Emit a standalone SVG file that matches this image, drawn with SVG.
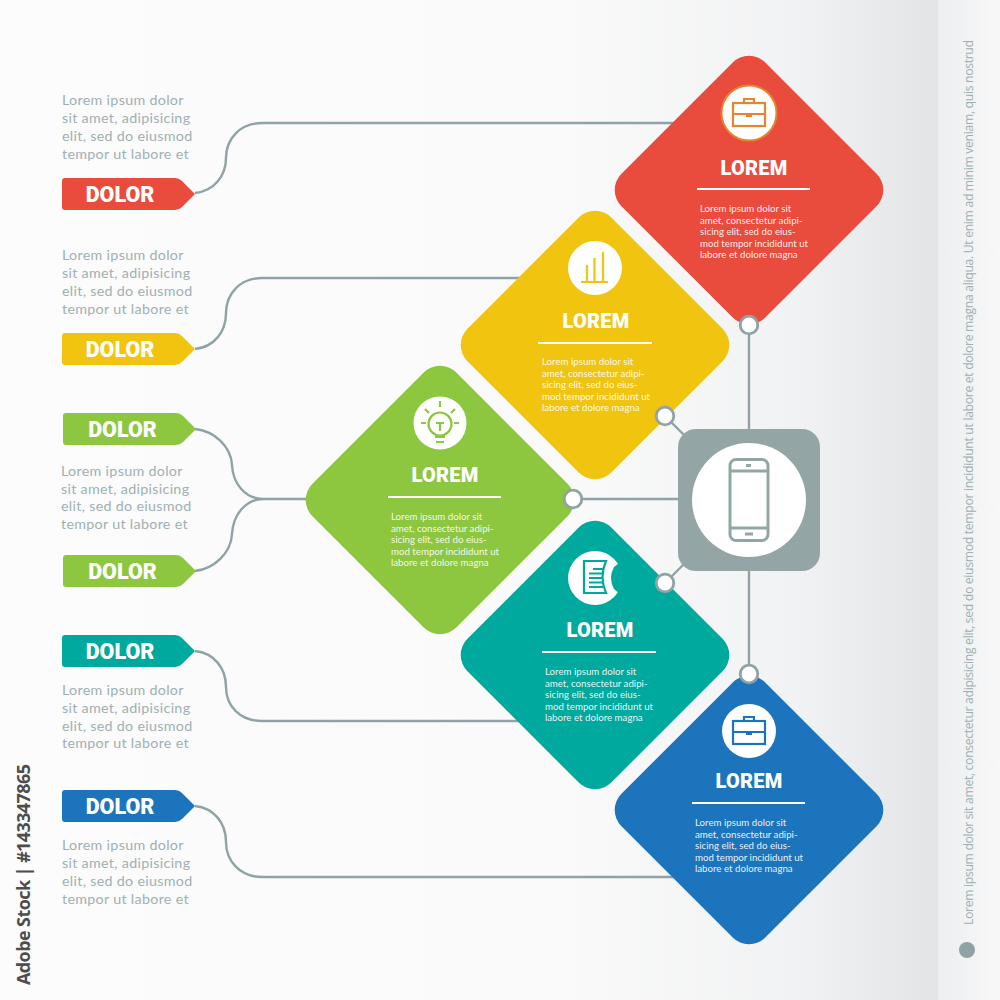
<svg xmlns="http://www.w3.org/2000/svg" xmlns:xlink="http://www.w3.org/1999/xlink" width="1000" height="1000" viewBox="0 0 1000 1000">
<style>
.lnk{fill:none;stroke:#8fa3a6;stroke-width:2.4}
.dot{fill:#fff;stroke:#8fa3a6;stroke-width:2.8}
.para{font:14.3px "Lato","Noto Sans",sans-serif;fill:#9fb0b2;letter-spacing:.3px}
.tag{font:900 21.500px "Roboto","Lato",sans-serif;fill:#fff;text-anchor:middle}
.ttl{font:900 20px "Roboto","Lato",sans-serif;fill:#fff;text-anchor:middle;letter-spacing:.2px}
.body{font:9.700px "Lato","Noto Sans",sans-serif;fill:#fff;fill-opacity:.92;letter-spacing:0}
.rule{stroke:#fff;stroke-width:2;fill:none}
.ic{fill:none;stroke-width:2.2}
</style>
<defs>
<linearGradient id="bg" x1="0" x2="1" y1="0" y2="0"><stop offset="0" stop-color="#fcfcfc"/><stop offset=".6" stop-color="#fafafa"/><stop offset=".85" stop-color="#f1f2f3"/><stop offset="1" stop-color="#e3e4e6"/></linearGradient>
<linearGradient id="side" x1="0" x2="1" y1="0" y2="0"><stop offset="0" stop-color="#eceeef"/><stop offset="1" stop-color="#f8f8f9"/></linearGradient>
<rect id="dia" x="-101.700" y="-101.700" width="203.400" height="203.400" rx="23" transform="rotate(45)"/>
<path id="lab" d="M-133,-16H-20Q-16,-16 -13,-13L0,0L-13,13Q-16,16 -20,16H-130Q-133,16 -133,13V-13Q-133,-16 -130,-16Z"/>
<g id="brief" class="ic"><rect x="-16" y="-10" width="32" height="23"/><path d="M-16,1H16M-3,3H3M-5,-10V-14H5V-10"/></g>
</defs>
<rect id="background" width="938" height="1000" fill="url(#bg)"/>
<rect id="sidebar" x="938" width="62" height="1000" fill="url(#side)"/>

<g id="connectors">
<path class="lnk" d="M195,193C214,191 226,176 226,158C226,139 240,123 262,123H680"/>
<path class="lnk" d="M195,349C214,347 226,332 226,313C226,294 240,278 262,278H525"/>
<path class="lnk" d="M195,429C214,431 231,446 232,465C233,484 245,498 262,499H310"/>
<path class="lnk" d="M195,571C214,569 231,553 232,534C233,515 245,500 262,499"/>
<path class="lnk" d="M195,651C214,653 226,668 226,687C226,706 240,721 262,721H525"/>
<path class="lnk" d="M195,806C214,808 226,823 226,842C226,861 240,877 262,877H680"/>
<path class="lnk" d="M749,325V430M665,416L685,436M573,499H680M665,583L685,563M749,570V674"/>
</g>

<g id="node-red">
<use href="#dia" x="749" y="190" fill="#e94c3d"/>
<circle cx="749" cy="113" r="27.500" fill="#fff" stroke="#e8842c" stroke-width="2"/>
<use href="#brief" x="749" y="113" stroke="#e8842c"/>
<text class="ttl" x="754" y="174.500">LOREM</text>
<path class="rule" d="M697,189H810"/>
<text class="body" x="700" y="211.500">Lorem ipsum dolor sit</text><text class="body" x="700" y="223.500">amet, consectetur adipi-</text><text class="body" x="700" y="235">sicing elit, sed do eius-</text><text class="body" x="700" y="246.500">mod tempor incididunt ut</text><text class="body" x="700" y="258">labore et dolore magna</text>
</g>
<g id="node-yellow">
<use href="#dia" x="595" y="345" fill="#f1c40f"/>
<circle cx="595" cy="268" r="27" fill="#fff"/>
<path class="ic" stroke="#f1c40f" d="M581,282H608M587,282V265M594.500,282V258M603,282V252"/>
<text class="ttl" x="596" y="328">LOREM</text>
<path class="rule" d="M538,343H652"/>
<text class="body" x="542" y="364.500">Lorem ipsum dolor sit</text><text class="body" x="542" y="376.500">amet, consectetur adipi-</text><text class="body" x="542" y="388">sicing elit, sed do eius-</text><text class="body" x="542" y="399.500">mod tempor incididunt ut</text><text class="body" x="542" y="411">labore et dolore magna</text>
</g>
<g id="node-green">
<use href="#dia" x="440" y="500" fill="#8dc63f"/>
<circle cx="440" cy="423" r="26.500" fill="#fff"/>
<g class="ic" stroke="#8dc63f"><circle cx="440" cy="424" r="11.500"/><path d="M440,431V423M436,423H444M435,437H445M436,442H444M440,401V407M425,409L429,413M455,409L451,413M421,423H426M454,423H459"/></g>
<text class="ttl" x="445" y="482">LOREM</text>
<path class="rule" d="M388,497H501"/>
<text class="body" x="391" y="519.500">Lorem ipsum dolor sit</text><text class="body" x="391" y="531.500">amet, consectetur adipi-</text><text class="body" x="391" y="543">sicing elit, sed do eius-</text><text class="body" x="391" y="554.500">mod tempor incididunt ut</text><text class="body" x="391" y="566">labore et dolore magna</text>
</g>
<g id="node-teal">
<use href="#dia" x="595" y="655" fill="#00a99d"/>
<circle cx="595" cy="578" r="27" fill="#fff"/>
<path fill="#00a99d" d="M623,560L614,567Q608,578 614,589L623,597Z"/>
<g class="ic" stroke="#00a99d"><path d="M606,561H584V593H606Q599,577 606,561Z"/><path d="M593,569H603M589,573.500H603M589,578H603M589,582.500H603M589,587H603"/></g>
<text class="ttl" x="600" y="637">LOREM</text>
<path class="rule" d="M542,652H656"/>
<text class="body" x="545" y="674.500">Lorem ipsum dolor sit</text><text class="body" x="545" y="686.500">amet, consectetur adipi-</text><text class="body" x="545" y="698">sicing elit, sed do eius-</text><text class="body" x="545" y="709.500">mod tempor incididunt ut</text><text class="body" x="545" y="721">labore et dolore magna</text>
</g>
<g id="node-blue">
<use href="#dia" x="749" y="810" fill="#1c75bc"/>
<circle cx="749" cy="731" r="27" fill="#fff"/>
<use href="#brief" x="749" y="731" stroke="#1c75bc"/>
<text class="ttl" x="749" y="788">LOREM</text>
<path class="rule" d="M692,803H805"/>
<text class="body" x="695" y="825.500">Lorem ipsum dolor sit</text><text class="body" x="695" y="837.500">amet, consectetur adipi-</text><text class="body" x="695" y="849">sicing elit, sed do eius-</text><text class="body" x="695" y="860.500">mod tempor incididunt ut</text><text class="body" x="695" y="872">labore et dolore magna</text>
</g>

<g id="node-hub">
<rect x="678" y="429" width="142" height="142" rx="18" fill="#94a5a6"/>
<circle cx="749" cy="500" r="57" fill="#fff"/>
<g fill="none" stroke="#94a5a6" stroke-width="3"><rect x="730" y="459.500" width="38" height="81" rx="6"/><path d="M730,471H768M730,528H768"/></g>
<rect x="746" y="464" width="5" height="3" fill="#94a5a6"/><rect x="745" y="532.500" width="8" height="3" fill="#94a5a6"/>
</g>

<g id="joints">
<circle class="dot" cx="749" cy="325" r="8.800"/>
<circle class="dot" cx="665" cy="416" r="8.800"/>
<circle class="dot" cx="573" cy="499" r="8.800"/>
<circle class="dot" cx="665" cy="583" r="8.800"/>
<circle class="dot" cx="749" cy="674" r="8.800"/>
</g>

<g id="label-1"><use href="#lab" x="195" y="194" fill="#e94c3d"/><text class="tag" x="120" y="201.500">DOLOR</text>
<text class="para" x="62" y="104.500">Lorem ipsum dolor</text><text class="para" x="62" y="122.500">sit amet, adipisicing</text><text class="para" x="62" y="140.500">elit, sed do eiusmod</text><text class="para" x="62" y="158.500">tempor ut labore et</text></g>
<g id="label-2"><use href="#lab" x="195" y="349" fill="#f1c40f"/><text class="tag" x="120" y="356.500">DOLOR</text>
<text class="para" x="62" y="259.500">Lorem ipsum dolor</text><text class="para" x="62" y="277.500">sit amet, adipisicing</text><text class="para" x="62" y="295.500">elit, sed do eiusmod</text><text class="para" x="62" y="313.500">tempor ut labore et</text></g>
<g id="label-3"><use href="#lab" x="196" y="429" fill="#8dc63f"/><text class="tag" x="122.500" y="436.500">DOLOR</text>
<text class="para" x="61" y="475.500">Lorem ipsum dolor</text><text class="para" x="61" y="493.500">sit amet, adipisicing</text><text class="para" x="61" y="511">elit, sed do eiusmod</text><text class="para" x="61" y="528.500">tempor ut labore et</text></g>
<g id="label-4"><use href="#lab" x="196" y="571" fill="#8dc63f"/><text class="tag" x="122.500" y="578.500">DOLOR</text></g>
<g id="label-5"><use href="#lab" x="195" y="651" fill="#00a99d"/><text class="tag" x="120" y="658.500">DOLOR</text>
<text class="para" x="62" y="694.500">Lorem ipsum dolor</text><text class="para" x="62" y="712.500">sit amet, adipisicing</text><text class="para" x="62" y="730.500">elit, sed do eiusmod</text><text class="para" x="62" y="748">tempor ut labore et</text></g>
<g id="label-6"><use href="#lab" x="195" y="806" fill="#1c75bc"/><text class="tag" x="120" y="813.500">DOLOR</text>
<text class="para" x="62" y="849.500">Lorem ipsum dolor</text><text class="para" x="62" y="867.500">sit amet, adipisicing</text><text class="para" x="62" y="885.500">elit, sed do eiusmod</text><text class="para" x="62" y="903.500">tempor ut labore et</text></g>

<text transform="translate(973,925) rotate(-90)" font-family="'Open Sans','Noto Sans',sans-serif" font-size="12.200" fill="#9db0b2" textLength="885" lengthAdjust="spacing">Lorem ipsum dolor sit amet, consectetur adipisicing elit, sed do eiusmod tempor incididunt ut labore et dolore magna aliqua. Ut enim ad minim veniam, quis nostrud</text>
<circle cx="967" cy="950" r="8" fill="#8fa3a6"/>
<text transform="translate(29.500,985) rotate(-90)" font-family="'Open Sans','Noto Sans',sans-serif" font-size="18" font-weight="700" fill="#4d4d4d" textLength="221" lengthAdjust="spacing">Adobe Stock | #143347865</text>
</svg>
